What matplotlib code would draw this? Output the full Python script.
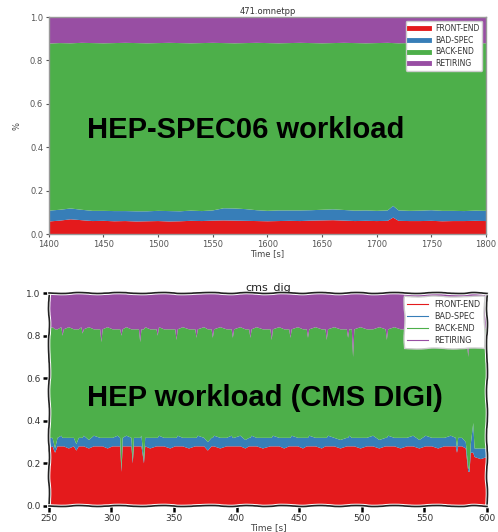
import matplotlib
matplotlib.use("Agg")
import matplotlib.pyplot as plt
from matplotlib.lines import Line2D
import matplotlib.patheffects as pe

# --- top panel: 471.omnetpp (fractions of pipeline slots) ---
omnet_time = [1400, 1410, 1420, 1430, 1440, 1450, 1460, 1470, 1480, 1490,
              1500, 1510, 1520, 1530, 1540, 1550, 1560, 1570, 1580, 1590,
              1600, 1610, 1620, 1630, 1640, 1650, 1660, 1670, 1680, 1690,
              1700, 1710, 1715, 1720, 1730, 1740, 1750, 1760, 1770, 1780,
              1790, 1800]
omnet_front = [.058, .062, .068, .064, .060, .061, .059, .060, .058, .059,
               .060, .058, .059, .061, .060, .062, .063, .062, .061, .060,
               .059, .060, .061, .060, .062, .063, .064, .062, .060, .061,
               .060, .061, .076, .061, .060, .060, .061, .059, .060, .060,
               .061, .060]
omnet_bad = [.050, .050, .050, .048, .047, .046, .047, .046, .047, .046,
             .047, .048, .046, .047, .046, .047, .056, .056, .054, .050,
             .048, .049, .048, .049, .048, .049, .050, .049, .048, .048,
             .047, .048, .054, .048, .047, .048, .049, .048, .047, .046,
             .047, .047]
omnet_back = [.770, .768, .761, .769, .773, .772, .774, .775, .775, .774,
              .773, .775, .775, .771, .774, .772, .761, .761, .765, .771,
              .773, .770, .771, .772, .770, .767, .766, .770, .772, .770,
              .773, .772, .750, .770, .773, .773, .770, .772, .773, .775,
              .772, .772]
omnet_retiring = [.122, .120, .121, .119, .120, .121, .120, .119, .120, .121,
                  .120, .119, .120, .121, .120, .119, .120, .121, .120, .119,
                  .120, .121, .120, .119, .120, .121, .120, .119, .120, .121,
                  .120, .119, .120, .121, .120, .119, .120, .121, .120, .119,
                  .120, .121]

# --- bottom panel: cms_dig ---
cms_time = [250, 253, 255, 257, 260, 261, 262, 266, 270, 272,
            274, 276, 277, 278, 282, 286, 291, 292, 293, 297,
            301, 305, 307, 308, 309, 312, 316, 317, 318, 322,
            323, 324, 326, 327, 331, 336, 337, 338, 342, 347,
            351, 352, 353, 357, 362, 367, 368, 369, 374, 377,
            380, 381, 382, 387, 392, 396, 397, 398, 403, 407,
            410, 411, 412, 416, 421, 427, 428, 429, 434, 438,
            442, 443, 444, 449, 453, 456, 457, 458, 463, 468,
            471, 472, 473, 478, 483, 488, 489, 490, 492, 493,
            494, 499, 504, 509, 514, 519, 520, 521, 526, 531,
            536, 541, 546, 551, 556, 561, 566, 571, 575, 576,
            577, 580, 583, 585, 586, 587, 589, 590, 595, 600]
cms_front = [.27, .28, .25, .28, .28, .28, .28, .27, .28, .26,
             .28, .28, .28, .28, .27, .28, .28, .28, .28, .27,
             .28, .28, .28, .16, .28, .28, .28, .20, .28, .28,
             .28, .28, .20, .28, .27, .28, .28, .28, .28, .27,
             .28, .28, .28, .28, .27, .28, .28, .28, .28, .26,
             .28, .28, .28, .27, .28, .28, .28, .28, .28, .27,
             .28, .28, .28, .28, .27, .28, .28, .28, .28, .27,
             .28, .28, .28, .28, .27, .28, .28, .28, .28, .27,
             .28, .28, .28, .28, .27, .28, .28, .28, .28, .28,
             .28, .27, .28, .28, .27, .28, .28, .28, .28, .27,
             .28, .28, .27, .28, .28, .27, .28, .28, .28, .25,
             .28, .28, .27, .16, .16, .25, .25, .23, .22, .23]
cms_bad = [.05, .04, .02, .04, .05, .04, .04, .05, .04, .03,
           .04, .04, .04, .05, .04, .05, .04, .04, .04, .05,
           .04, .05, .04, .01, .04, .05, .04, .01, .04, .04,
           .04, .05, .01, .04, .05, .04, .04, .05, .04, .05,
           .04, .04, .05, .04, .05, .04, .04, .05, .04, .04,
           .04, .04, .05, .05, .04, .05, .04, .04, .05, .04,
           .04, .04, .05, .04, .05, .04, .04, .05, .04, .05,
           .04, .04, .05, .04, .05, .04, .04, .05, .04, .05,
           .04, .04, .05, .04, .04, .04, .04, .05, .04, .04,
           .04, .05, .04, .05, .04, .04, .04, .05, .04, .05,
           .04, .05, .04, .05, .04, .05, .04, .05, .04, .02,
           .04, .04, .03, .02, .01, .04, .14, .04, .05, .04]
cms_back = [.51, .52, .56, .51, .51, .48, .51, .52, .51, .54,
            .51, .52, .49, .50, .53, .50, .51, .45, .51, .52,
            .51, .50, .51, .63, .51, .51, .51, .62, .51, .51,
            .45, .50, .62, .52, .51, .51, .48, .51, .51, .51,
            .51, .46, .50, .52, .51, .51, .47, .50, .52, .53,
            .51, .47, .50, .52, .51, .50, .47, .51, .51, .52,
            .51, .47, .50, .52, .51, .51, .46, .50, .52, .51,
            .51, .47, .50, .52, .51, .51, .47, .50, .52, .51,
            .51, .46, .50, .52, .52, .51, .47, .50, .51, .38,
            .51, .52, .51, .50, .53, .51, .46, .50, .52, .51,
            .51, .51, .52, .50, .52, .51, .51, .51, .51, .56,
            .51, .52, .53, .52, .66, .54, .44, .56, .57, .56]
cms_retiring = [.17, .16, .17, .17, .16, .20, .17, .16, .17, .17,
                .17, .16, .19, .17, .16, .17, .17, .23, .17, .16,
                .17, .17, .17, .20, .17, .16, .17, .17, .17, .17,
                .23, .17, .17, .16, .17, .17, .20, .16, .17, .17,
                .17, .22, .17, .16, .17, .17, .21, .17, .16, .17,
                .17, .21, .17, .16, .17, .17, .21, .17, .16, .17,
                .17, .21, .17, .16, .17, .17, .22, .17, .16, .17,
                .17, .21, .17, .16, .17, .17, .21, .17, .16, .17,
                .17, .22, .17, .16, .17, .17, .21, .17, .17, .30,
                .17, .16, .17, .17, .16, .17, .22, .17, .16, .17,
                .17, .16, .17, .17, .16, .17, .17, .16, .17, .17,
                .17, .16, .17, .30, .17, .17, .17, .17, .16, .17]

labels = ["FRONT-END", "BAD-SPEC", "BACK-END", "RETIRING"]
colors = ["#e41a1c", "#377eb8", "#4daf4a", "#984ea3"]

fig = plt.figure(figsize=(4.98, 5.32), dpi=100)

# top panel
ax1 = fig.add_axes([0.098, 0.560, 0.878, 0.408])
ax1.stackplot(omnet_time, omnet_front, omnet_bad, omnet_back, omnet_retiring,
              colors=colors, linewidth=0)
ax1.set_xlim(1400, 1800)
ax1.set_ylim(0, 1.0)
ax1.set_xticks([1400, 1450, 1500, 1550, 1600, 1650, 1700, 1750, 1800])
ax1.set_yticks([0.0, 0.2, 0.4, 0.6, 0.8, 1.0])
ax1.tick_params(labelsize=6, colors="#555555", length=2.5, width=0.8, pad=1.5)
for sp in ax1.spines.values():
    sp.set_color("#999999")
    sp.set_linewidth(1.0)
ax1.set_title("471.omnetpp", fontsize=6, color="#333333", pad=2)
ax1.set_xlabel("Time [s]", fontsize=6, color="#444444", labelpad=0)
ax1.set_ylabel("%", fontsize=6, color="#444444", labelpad=6)
h1 = [Line2D([], [], color=c, lw=3.5) for c in colors]
leg1 = ax1.legend(h1, labels, loc="upper right", fontsize=5.5, frameon=True,
                  handlelength=2.6, borderaxespad=0.5, labelspacing=0.35,
                  fancybox=True, framealpha=1.0)
for t in leg1.get_texts():
    t.set_color("#333333")

# bottom panel, hand drawn look
ax2 = fig.add_axes([0.098, 0.049, 0.880, 0.400])
ax2.stackplot(cms_time, cms_front, cms_bad, cms_back, cms_retiring,
              colors=colors, linewidth=0)
ax2.set_xlim(250, 600)
ax2.set_ylim(0, 1.0)
ax2.set_xticks([250, 300, 350, 400, 450, 500, 550, 600])
ax2.set_yticks([0.0, 0.2, 0.4, 0.6, 0.8, 1.0])
ax2.tick_params(labelsize=6.5, labelcolor="#333333", colors="black",
                length=4, width=1.8, pad=2)
for sp in ax2.spines.values():
    sp.set_color("#222222")
    sp.set_linewidth(1.2)
    sp.set_sketch_params(0.5, 50, 3)
    sp.set_path_effects([pe.withStroke(linewidth=2.6, foreground="white")])
ax2.set_title("cms_dig", fontsize=8, color="#222222", pad=2)
ax2.set_xlabel("Time [s]", fontsize=6.5, color="#444444", labelpad=0)
h2 = [Line2D([], [], color=c, lw=0.8) for c in colors]
leg2 = ax2.legend(h2, labels, loc="upper right", fontsize=5.8, frameon=True,
                  handlelength=2.6, borderaxespad=0.4, labelspacing=0.4,
                  fancybox=False, framealpha=1.0)
leg2.get_frame().set_sketch_params(0.5, 50, 3)
leg2.get_frame().set_edgecolor("#cccccc")
for t in leg2.get_texts():
    t.set_color("#333333")

# overlay captions
fig.text(0.494, 0.756, "HEP-SPEC06 workload", fontsize=21, fontweight="bold",
         family="Liberation Sans", ha="center", va="center")
fig.text(0.532, 0.252, "HEP workload (CMS DIGI)", fontsize=21, fontweight="bold",
         family="Liberation Sans", ha="center", va="center")

fig.savefig("out.png", dpi=100)
